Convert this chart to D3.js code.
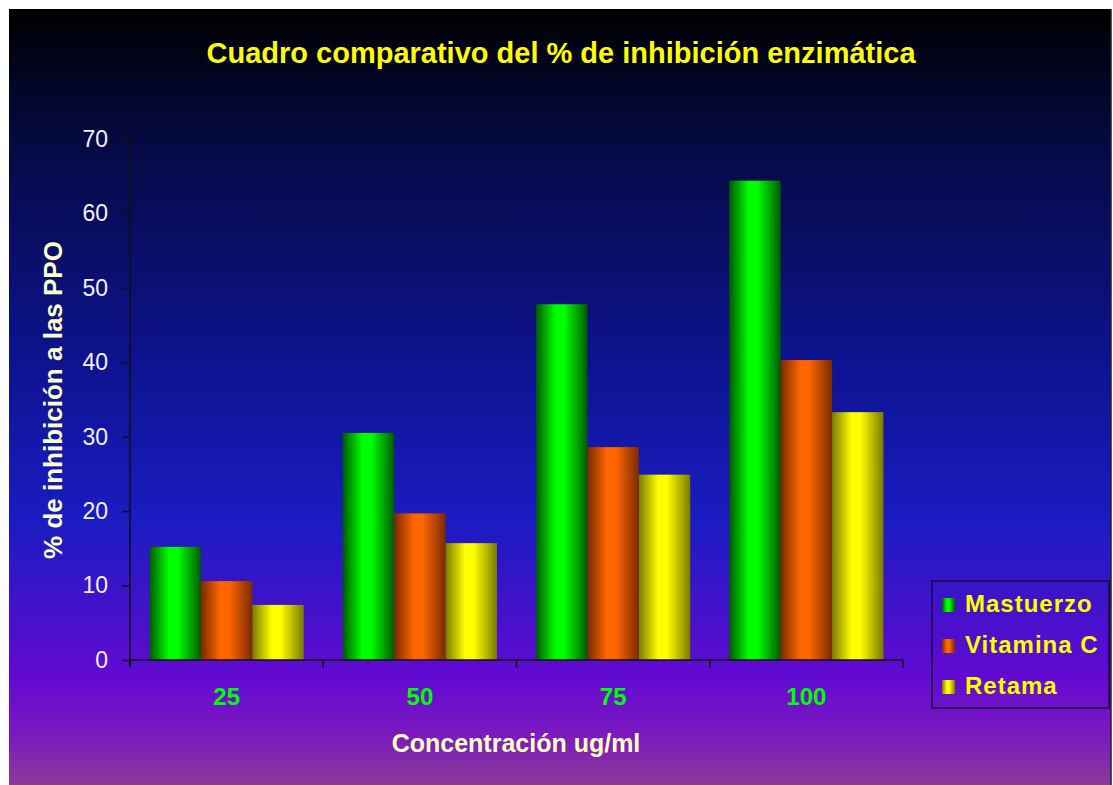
<!DOCTYPE html>
<html>
<head>
<meta charset="utf-8">
<script src="https://cdnjs.cloudflare.com/ajax/libs/d3/7.8.5/d3.min.js"></script>
<style>
  body { margin: 0; background: #fff; }
  svg text { font-family: "Liberation Sans", Arial, sans-serif; }
</style>
</head>
<body>
<div id="chart"></div>
<script>
// categories on the x axis (concentration)
var categories = ["25", "50", "75", "100"];
// series names
var seriesNames = ["Mastuerzo", "Vitamina C", "Retama"];
// values per series, same order as categories
var mastuerzo = [15.2, 30.5, 47.8, 64.4];
var vitaminaC = [10.6, 19.7, 28.6, 40.3];
var retama = [7.4, 15.7, 24.9, 33.3];
var yTicks = [0, 10, 20, 30, 40, 50, 60, 70];

var width = 1113, height = 785;
var margin = {top: 139, right: 210, bottom: 125, left: 130};

var svg = d3.select("#chart").append("svg")
    .attr("width", width)
    .attr("height", height);

var defs = svg.append("defs");

// background gradient
var bg = defs.append("linearGradient")
    .attr("id", "bgGrad")
    .attr("x1", 0).attr("y1", 0).attr("x2", 0).attr("y2", 1);
[[0, "#000000"], [0.18, "#050a45"], [0.45, "#0d138e"], [0.66, "#1a1cc2"], [0.86, "#620ad2"], [0.93, "#7a18c0"], [1, "#8a3a98"]]
  .forEach(function(s){
    bg.append("stop").attr("offset", s[0]).attr("stop-color", s[1]);
  });

svg.append("rect")
    .attr("x", 9).attr("y", 9)
    .attr("width", 1102).attr("height", height - 9)
    .attr("fill", "url(#bgGrad)");
svg.append("line")
    .attr("x1", 1111).attr("x2", 1111).attr("y1", 9).attr("y2", height)
    .attr("stroke", "#222").attr("stroke-width", 1.5);

// bar gradients (cylinder look)
var barColors = [
  {id: "g0", dark: "#005a00", light: "#00ff00"},
  {id: "g1", dark: "#7a2a00", light: "#ff6600"},
  {id: "g2", dark: "#7a7a00", light: "#ffff00"}
];
barColors.forEach(function(c){
  var g = defs.append("linearGradient")
      .attr("id", c.id)
      .attr("x1", 0).attr("y1", 0).attr("x2", 1).attr("y2", 0);
  g.append("stop").attr("offset", 0).attr("stop-color", c.dark);
  g.append("stop").attr("offset", 0.38).attr("stop-color", c.light);
  g.append("stop").attr("offset", 0.55).attr("stop-color", c.light);
  g.append("stop").attr("offset", 1).attr("stop-color", c.dark);
});

var plotW = 903 - margin.left;
var plotH = 660 - margin.top;

var xScale = d3.scaleBand()
    .domain(categories)
    .range([margin.left, margin.left + plotW])
    .paddingInner(0)
    .paddingOuter(0);

var xInner = d3.scaleBand()
    .domain(seriesNames)
    .range([0, xScale.bandwidth()])
    .paddingOuter(0.38)
    .paddingInner(0);

var yScale = d3.scaleLinear()
    .domain([0, 70])
    .range([margin.top + plotH, margin.top]);

var series = [mastuerzo, vitaminaC, retama];

// bars
var groups = svg.selectAll(".grp")
    .data(categories)
    .enter().append("g")
    .attr("class", "grp")
    .attr("transform", function(d){ return "translate(" + xScale(d) + ",0)"; });

groups.selectAll("rect")
    .data(function(d, i){
      return seriesNames.map(function(s, j){ return {name: s, idx: j, value: series[j][i]}; });
    })
    .enter().append("rect")
    .attr("x", function(d){ return xInner(d.name); })
    .attr("width", xInner.bandwidth())
    .attr("y", function(d){ return yScale(d.value); })
    .attr("height", function(d){ return yScale(0) - yScale(d.value); })
    .attr("fill", function(d){ return "url(#" + barColors[d.idx].id + ")"; });

// y axis
var yAxis = d3.axisLeft(yScale).tickValues(yTicks).tickSize(8).tickPadding(14);
var yG = svg.append("g")
    .attr("transform", "translate(" + margin.left + ",0)")
    .call(yAxis);
yG.select(".domain").attr("stroke", "#111").attr("stroke-width", 1.5)
    .attr("d", "M-8," + yScale(70) + "H0V" + (yScale(0) + 7));
yG.selectAll(".tick line").attr("stroke", "#111").attr("stroke-width", 1.5);
yG.selectAll(".tick text")
    .attr("fill", "#f2f0ff")
    .attr("font-size", 23)
    .style("font-family", "Liberation Sans, Arial, sans-serif");

// x axis
var xAxis = d3.axisBottom(xScale).tickSize(0).tickPadding(28);
var xG = svg.append("g")
    .attr("transform", "translate(0," + yScale(0) + ")")
    .call(xAxis);
xG.select(".domain").attr("stroke", "#111").attr("stroke-width", 1.5)
    .attr("d", "M" + margin.left + ",0H" + (margin.left + plotW));
xG.selectAll(".tick text")
    .attr("fill", "#00ff00")
    .attr("font-size", 24)
    .attr("font-weight", "bold")
    .style("font-family", "Liberation Sans, Arial, sans-serif");
// boundary ticks between categories
var bounds = categories.map(function(c){ return xScale(c); }).concat([margin.left + plotW]);
xG.selectAll(".bnd")
    .data(bounds)
    .enter().append("line")
    .attr("class", "bnd")
    .attr("x1", function(d){ return d; }).attr("x2", function(d){ return d; })
    .attr("y1", 0).attr("y2", 8)
    .attr("stroke", "#111").attr("stroke-width", 1.5);

// title
svg.append("text")
    .attr("x", 561).attr("y", 63)
    .attr("text-anchor", "middle")
    .attr("fill", "#ffff00")
    .attr("font-size", 29)
    .attr("font-weight", "bold")
    .text("Cuadro comparativo del % de inhibición enzimática");

// axis titles
svg.append("text")
    .attr("transform", "translate(62,400) rotate(-90)")
    .attr("text-anchor", "middle")
    .attr("fill", "#ffffc8")
    .attr("font-size", 26)
    .attr("font-weight", "bold")
    .text("% de inhibición a las PPO");

svg.append("text")
    .attr("x", 516).attr("y", 752)
    .attr("text-anchor", "middle")
    .attr("fill", "#ffffc0")
    .attr("font-size", 25)
    .attr("font-weight", "bold")
    .text("Concentración ug/ml");

// legend
var legend = svg.append("g").attr("transform", "translate(932,581)");
legend.append("rect")
    .attr("width", 177).attr("height", 127)
    .attr("fill", "none")
    .attr("stroke", "#1a0a40").attr("stroke-width", 1.5);

var legItems = legend.selectAll(".leg")
    .data(seriesNames)
    .enter().append("g")
    .attr("class", "leg")
    .attr("transform", function(d, i){ return "translate(0," + (31 + i * 41) + ")"; });

legItems.append("rect")
    .attr("x", 10).attr("y", -14)
    .attr("width", 13).attr("height", 14)
    .attr("fill", function(d, i){ return "url(#" + barColors[i].id + ")"; });

legItems.append("text")
    .attr("x", 33).attr("y", 0)
    .attr("fill", "#ffff00")
    .attr("font-size", 24)
    .attr("font-weight", "bold")
    .attr("letter-spacing", 1)
    .text(function(d){ return d; });
</script>
</body>
</html>
